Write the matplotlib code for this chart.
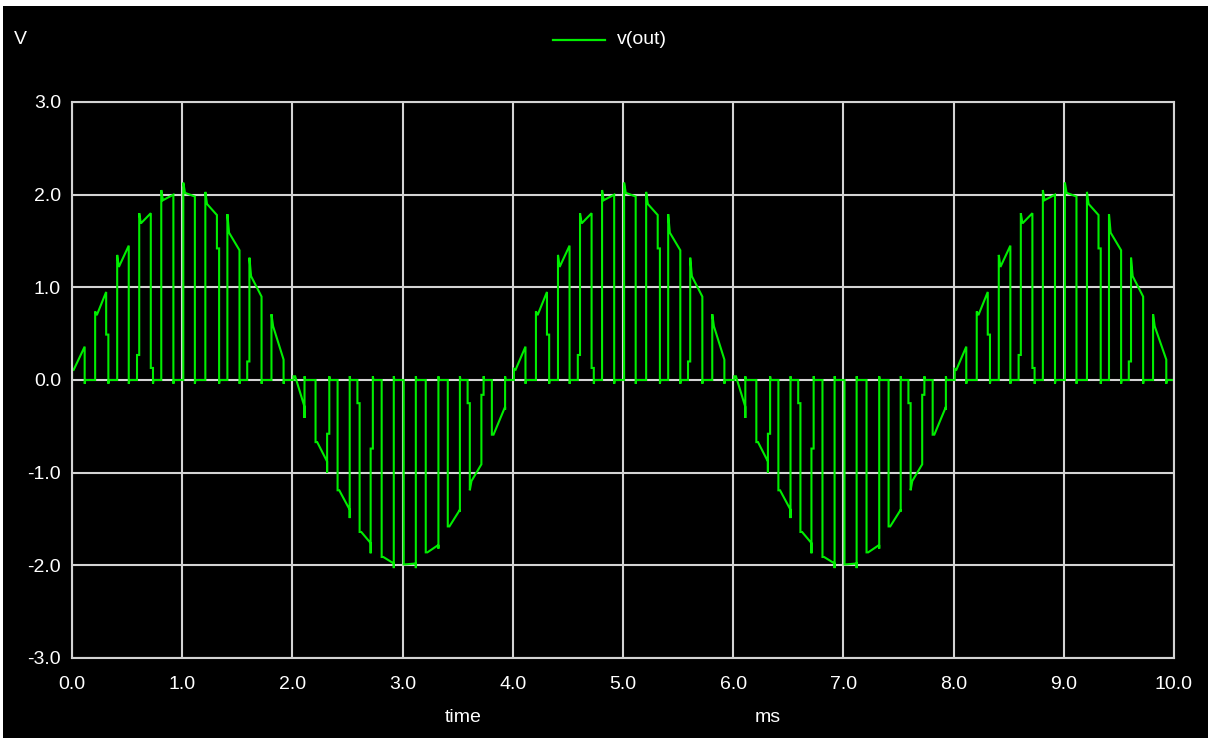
import matplotlib
matplotlib.use("Agg")
import matplotlib.pyplot as plt
from matplotlib.lines import Line2D

# ---------------- data ----------------
# chopped sine: each pulse switches on at t_on, follows the signal, switches off at t_off
t_on = [0.00, 0.21, 0.41, 0.61, 0.81, 1.01, 1.21, 1.41, 1.61, 1.81,
        2.01, 2.21, 2.41, 2.61, 2.81, 3.01, 3.21, 3.41, 3.61, 3.81,
        4.01, 4.21, 4.41, 4.61, 4.81, 5.01, 5.21, 5.41, 5.61, 5.81,
        6.01, 6.21, 6.41, 6.61, 6.81, 7.01, 7.21, 7.41, 7.61, 7.81,
        8.01, 8.21, 8.41, 8.61, 8.81, 9.01, 9.21, 9.41, 9.61, 9.81]
t_off = [0.115, 0.31, 0.515, 0.715, 0.92, 1.115, 1.315, 1.52, 1.72, 1.92,
         2.11, 2.315, 2.52, 2.71, 2.92, 3.12, 3.325, 3.52, 3.715, 3.93,
         4.115, 4.31, 4.515, 4.715, 4.92, 5.115, 5.315, 5.52, 5.72, 5.92,
         6.11, 6.315, 6.52, 6.71, 6.92, 7.12, 7.325, 7.52, 7.715, 7.93,
         8.115, 8.31, 8.515, 8.715, 8.92, 9.115, 9.315, 9.52, 9.72, 9.93]
# value at top of the switch-on edge
v_on_peak = [0.12, 0.74, 1.35, 1.80, 2.05, 2.13, 2.03, 1.79, 1.32, 0.71,
             0.04, -0.67, -1.19, -1.64, -1.91, -1.99, -1.86, -1.58, -1.19, -0.59,
             0.12, 0.74, 1.35, 1.80, 2.05, 2.13, 2.03, 1.79, 1.32, 0.71,
             0.04, -0.67, -1.19, -1.64, -1.91, -1.99, -1.86, -1.58, -1.19, -0.59,
             0.12, 0.74, 1.35, 1.80, 2.05, 2.13, 2.03, 1.79, 1.32, 0.71]
# value where the followed segment starts
v_first = [0.11, 0.70, 1.22, 1.69, 1.94, 2.02, 1.90, 1.59, 1.12, 0.58,
           0.04, -0.67, -1.19, -1.64, -1.91, -1.99, -1.86, -1.58, -1.09, -0.59,
           0.11, 0.70, 1.22, 1.69, 1.94, 2.02, 1.90, 1.59, 1.12, 0.58,
           0.04, -0.67, -1.19, -1.64, -1.91, -1.99, -1.86, -1.58, -1.09, -0.59,
           0.11, 0.70, 1.22, 1.69, 1.94, 2.02, 1.90, 1.59, 1.12, 0.58]
# value where the followed segment ends
v_last = [0.36, 0.95, 1.45, 1.80, 2.00, 1.98, 1.78, 1.40, 0.90, 0.22,
          -0.29, -0.88, -1.40, -1.76, -1.98, -1.98, -1.78, -1.40, -0.91, -0.29,
          0.36, 0.95, 1.45, 1.80, 2.00, 1.98, 1.78, 1.40, 0.90, 0.22,
          -0.29, -0.88, -1.40, -1.76, -1.98, -1.98, -1.78, -1.40, -0.91, -0.29,
          0.36, 0.95, 1.45, 1.80, 2.00, 1.98, 1.78, 1.40, 0.90, 0.22]
# extreme of the switch-off edge
v_off_peak = [0.36, 0.95, 1.45, 1.80, 2.00, 1.98, 1.78, 1.40, 0.90, 0.22,
              -0.41, -1.00, -1.49, -1.87, -2.03, -2.03, -1.82, -1.42, -0.91, -0.32,
              0.36, 0.95, 1.45, 1.80, 2.00, 1.98, 1.78, 1.40, 0.90, 0.22,
              -0.41, -1.00, -1.49, -1.87, -2.03, -2.03, -1.82, -1.42, -0.91, -0.32,
              0.36, 0.95, 1.45, 1.80, 2.00, 1.98, 1.78, 1.40, 0.90, 0.22]
# intermediate step levels on the edges (None = clean edge)
on_step = [None, None, None, 0.27, None, None, None, None, 0.20, None,
           None, None, None, -0.25, None, None, None, None, -0.25, None,
           None, None, None, 0.27, None, None, None, None, 0.20, None,
           None, None, None, -0.25, None, None, None, None, -0.25, None,
           None, None, None, 0.27, None, None, None, None, 0.20, None]
off_step = [None, 0.49, None, 0.13, None, None, 1.42, None, None, None,
            None, -0.58, None, -0.74, None, None, None, None, -0.16, None,
            None, 0.49, None, 0.13, None, None, 1.42, None, None, None,
            None, -0.58, None, -0.74, None, None, None, None, -0.16, None,
            None, 0.49, None, 0.13, None, None, 1.42, None, None, None]

x_ticks = [0.0, 1.0, 2.0, 3.0, 4.0, 5.0, 6.0, 7.0, 8.0, 9.0, 10.0]
y_ticks = [-3.0, -2.0, -1.0, 0.0, 1.0, 2.0, 3.0]
series_name = "v(out)"

# ---------------- build trace ----------------
t_pts, v_pts = [0.0], [0.0]
edge = 0.02
for i in range(len(t_on)):
    a, b = t_on[i], t_off[i]
    if on_step[i] is not None:
        t_pts += [a - edge, a - edge, a]
        v_pts += [0.0, on_step[i], on_step[i]]
    else:
        t_pts += [a]
        v_pts += [0.0]
    t_pts += [a, a + 0.015, b, b]
    v_pts += [v_on_peak[i], v_first[i], v_last[i], v_off_peak[i]]
    over = -0.04 if v_last[i] > 0 else 0.04
    if off_step[i] is not None:
        t_pts += [b, b + edge, b + edge, b + edge + 0.005]
        v_pts += [off_step[i], off_step[i], over, 0.0]
    else:
        t_pts += [b, b + 0.005]
        v_pts += [over, 0.0]
t_pts += [10.0]
v_pts += [0.0]

# ---------------- figure ----------------
W, H = 1208, 738
fig = plt.figure(figsize=(W / 100, H / 100), dpi=100, facecolor="black")
ax = fig.add_axes([72 / W, 1 - 658 / H, (1174 - 72) / W, (658 - 102) / H])
ax.set_facecolor("black")

grid_c = "#d4d4d4"
for s in ax.spines.values():
    s.set_color(grid_c)
    s.set_linewidth(1.5)
ax.set_xlim(0, 10)
ax.set_ylim(-3, 3)
ax.set_xticks(x_ticks)
ax.set_yticks(y_ticks)
ax.set_xticklabels([f"{v:.1f}" for v in x_ticks])
ax.set_yticklabels([f"{v:.1f}" for v in y_ticks])
ax.grid(True, color=grid_c, linewidth=1.5)
ax.set_axisbelow(True)
ax.tick_params(length=0, colors="white", labelsize=14)
ax.tick_params(axis="x", pad=13)
ax.tick_params(axis="y", pad=8)
for lab in ax.get_xticklabels() + ax.get_yticklabels():
    lab.set_fontfamily("Liberation Sans")

green = "#00ee00"
ax.plot(t_pts, v_pts, color=green, linewidth=1.5, solid_joinstyle="miter")

# header texts and legend
fs = 14
fig.text(14 / W, 1 - 40 / H, "V", color="white", fontsize=fs, va="center",
         ha="left", family="Liberation Sans")
fig.add_artist(Line2D([553 / W, 605 / W], [1 - 40 / H, 1 - 40 / H],
                      color=green, linewidth=1.6, transform=fig.transFigure))
fig.text(617 / W, 1 - 40 / H, series_name, color="white", fontsize=fs,
         va="center", ha="left", family="Liberation Sans")
fig.text(463 / W, 1 - 718 / H, "time", color="white", fontsize=fs,
         va="center", ha="center", family="Liberation Sans")
fig.text(768 / W, 1 - 718 / H, "ms", color="white", fontsize=fs,
         va="center", ha="center", family="Liberation Sans")

# white frame strips at top and left edge of the screenshot
fig.patches.append(plt.Rectangle((0, 1 - 6 / H), 1, 6 / H, transform=fig.transFigure,
                                 facecolor="white", edgecolor="none"))
fig.patches.append(plt.Rectangle((0, 0), 3 / W, 1, transform=fig.transFigure,
                                 facecolor="white", edgecolor="none"))

fig.savefig("out.png", dpi=100, facecolor="black")
